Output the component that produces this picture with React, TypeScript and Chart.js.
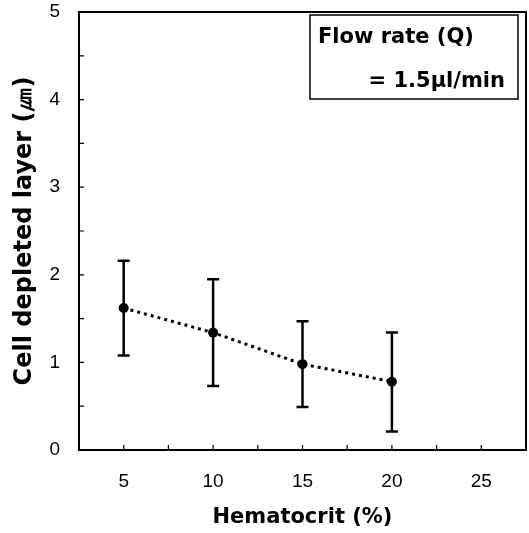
import React, { useEffect, useRef } from "react";
import { Chart, registerables } from "chart.js";

Chart.register(...registerables);

const hematocrit = [5, 10, 15, 20];
const depletedLayer = [1.62, 1.34, 0.98, 0.78];
const errHigh = [2.16, 1.95, 1.47, 1.34];
const errLow = [1.08, 0.73, 0.49, 0.21];
const boxLines = ["Flow rate (Q)", "= 1.5\u00b5l/min"];
const xTitle = "Hematocrit (%)";
const yTitle = "Cell depleted layer (\u339b)";

const tickFont = "'Liberation Sans Narrow', 'Liberation Sans', Arial, sans-serif";
const boldFont = "'DejaVu Sans', sans-serif";

const framePlugin = {
  id: "frameAndExtras",
  afterDatasetsDraw(chart: any) {
    const { ctx, scales } = chart;
    const xs = scales.x;
    const ys = scales.y;
    ctx.save();
    ctx.strokeStyle = "#000";
    ctx.lineWidth = 2.5;
    for (let i = 0; i < hematocrit.length; i++) {
      const px = xs.getPixelForValue(hematocrit[i]);
      const pt = ys.getPixelForValue(errHigh[i]);
      const pb = ys.getPixelForValue(errLow[i]);
      ctx.beginPath();
      ctx.moveTo(px, pt);
      ctx.lineTo(px, pb);
      ctx.moveTo(px - 6, pt);
      ctx.lineTo(px + 6, pt);
      ctx.moveTo(px - 6, pb);
      ctx.lineTo(px + 6, pb);
      ctx.stroke();
    }
    ctx.restore();
  },
  afterDraw(chart: any) {
    const { ctx, chartArea, scales } = chart;
    const { left, right, top, bottom } = chartArea;
    ctx.save();
    ctx.strokeStyle = "#000";
    ctx.lineWidth = 2;
    ctx.strokeRect(left, top, right - left, bottom - top);
    ctx.lineWidth = 1.2;
    ctx.beginPath();
    for (const t of scales.x.ticks) {
      const px = scales.x.getPixelForValue(t.value);
      if (px <= left + 1 || px >= right - 1) continue;
      ctx.moveTo(px, bottom);
      ctx.lineTo(px, bottom - 5);
    }
    for (const t of scales.y.ticks) {
      const py = scales.y.getPixelForValue(t.value);
      if (py <= top + 1 || py >= bottom - 1) continue;
      ctx.moveTo(left, py);
      ctx.lineTo(left + 5, py);
    }
    ctx.stroke();

    // annotation box
    const bw = 208;
    const bh = 84;
    const bx = right - 8 - bw;
    const by = top + 3;
    ctx.fillStyle = "#fff";
    ctx.fillRect(bx, by, bw, bh);
    ctx.lineWidth = 1.5;
    ctx.strokeRect(bx, by, bw, bh);
    ctx.fillStyle = "#000";
    ctx.font = `bold 21px ${boldFont}`;
    ctx.textBaseline = "alphabetic";
    ctx.textAlign = "left";
    ctx.fillText(boxLines[0], bx + 8, by + 28);
    ctx.textAlign = "right";
    ctx.fillText(boxLines[1], bx + bw - 13, by + 72);
    ctx.restore();
  },
};

const noPad = (s: any) => {
  s.paddingTop = 0;
  s.paddingBottom = 0;
  s.paddingLeft = 0;
  s.paddingRight = 0;
};

export default function App() {
  const ref = useRef<HTMLCanvasElement | null>(null);
  useEffect(() => {
    if (!ref.current) return;
    const chart = new Chart(ref.current, {
      type: "line",
      data: {
        datasets: [
          {
            data: hematocrit.map((x, i) => ({ x, y: depletedLayer[i] })),
            borderColor: "#000",
            backgroundColor: "#000",
            borderWidth: 3,
            borderDash: [3, 4],
            pointRadius: 5,
            pointBackgroundColor: "#000",
            pointBorderWidth: 0,
            tension: 0,
          },
        ],
      },
      options: {
        animation: false,
        responsive: false,
        layout: { autoPadding: false, padding: { top: 12, right: 3, left: 0, bottom: 0 } },
        plugins: { legend: { display: false }, tooltip: { enabled: false } },
        scales: {
          x: {
            type: "linear",
            min: 2.5,
            max: 27.5,
            grid: { display: false, drawTicks: false },
            border: { display: false },
            ticks: {
              stepSize: 2.5,
              autoSkip: false,
              maxRotation: 0,
              padding: 20,
              color: "#000",
              font: { family: tickFont, size: 19 },
              callback: (v: any) => (Number(v) % 5 === 0 ? String(v) : ""),
            },
            title: {
              display: true,
              text: xTitle,
              color: "#000",
              font: { family: boldFont, size: 21, weight: "bold" },
              padding: { top: 0, bottom: 3 },
            },
            afterFit: (s: any) => {
              s.height = 83;
              noPad(s);
            },
          },
          y: {
            min: 0,
            max: 5,
            grid: { display: false, drawTicks: false },
            border: { display: false },
            ticks: {
              stepSize: 0.5,
              autoSkip: false,
              padding: 19,
              color: "#000",
              font: { family: tickFont, size: 19 },
              callback: (v: any) => (Number(v) % 1 === 0 ? String(v) : ""),
            },
            title: {
              display: true,
              text: yTitle,
              color: "#000",
              font: { family: boldFont, size: 24, weight: "bold" },
              padding: { top: 10, bottom: 0 },
            },
            afterFit: (s: any) => {
              s.width = 79;
              noPad(s);
            },
          },
        },
      },
      plugins: [framePlugin],
    } as any);
    return () => chart.destroy();
  }, []);
  return (
    <div style={{ position: "absolute", left: 0, top: 0, width: 529, height: 533, background: "#fff" }}>
      <canvas ref={ref} width={529} height={533} style={{ width: 529, height: 533 }} />
    </div>
  );
}
